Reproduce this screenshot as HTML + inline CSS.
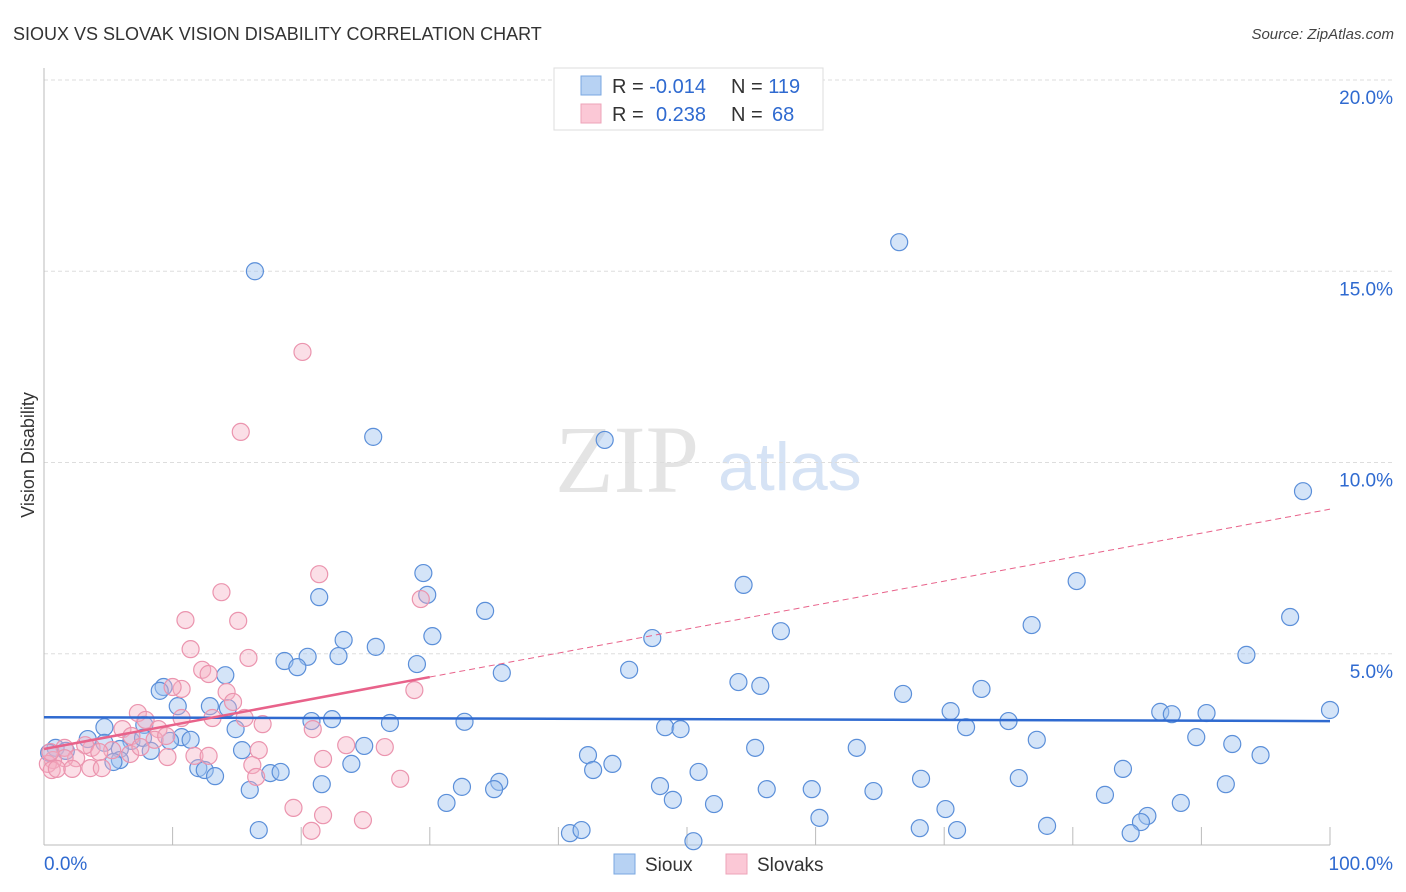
<!DOCTYPE html>
<html><head><meta charset="utf-8"><style>
body{margin:0;background:#fff;font-family:"Liberation Sans",sans-serif}
svg{display:block}
</style></head><body>
<svg id="chart" width="1406" height="892" xmlns="http://www.w3.org/2000/svg">
<text x="13" y="40" font-size="18" fill="#333">SIOUX VS SLOVAK VISION DISABILITY CORRELATION CHART</text>
<text x="1394" y="39" font-size="15" fill="#444" font-style="italic" text-anchor="end">Source: ZipAtlas.com</text>
<g>
<text x="555" y="492" font-size="96" font-family="Liberation Serif,serif" fill="#e4e4e4">ZIP</text>
<text x="718" y="490" font-size="68" fill="#d6e3f5">atlas</text>
</g>
<g id="grid"></g>
<g id="axes"></g>
<g id="pts"></g>
<g id="trends"></g>
<text transform="translate(34,455) rotate(-90)" font-size="18" fill="#333" text-anchor="middle">Vision Disability</text>
<g>
<rect x="554" y="68" width="269" height="62" fill="#fff" stroke="#ddd"/>
<rect x="581" y="76" width="20" height="19" fill="#b7d2f3" stroke="#7aa7e0"/>
<rect x="581" y="104" width="20" height="19" fill="#fbc8d6" stroke="#eea3b8"/>
<text x="612" y="93" font-size="20" fill="#333">R = <tspan fill="#2f6ad0">-0.014</tspan><tspan x="731">N = </tspan><tspan fill="#2f6ad0">119</tspan></text>
<text x="612" y="121" font-size="20" fill="#333">R = <tspan x="656" fill="#2f6ad0">0.238</tspan><tspan x="731">N = </tspan><tspan x="772" fill="#2f6ad0">68</tspan></text>
</g>
<g>
<rect x="614" y="854" width="21" height="20" fill="#b7d2f3" stroke="#7aa7e0"/>
<text x="645" y="871" font-size="19" fill="#333">Sioux</text>
<rect x="726" y="854" width="21" height="20" fill="#fbc8d6" stroke="#eea3b8"/>
<text x="757" y="871" font-size="19" fill="#333">Slovaks</text>
</g>
</svg>
<script>
const yTicks=[5,10,15,20];
const yTickLabels=["5.0%","10.0%","15.0%","20.0%"];
const xTickLabels=["0.0%","100.0%"];
const siouxX=[16.4,66.5,25.6,43.6,97.9,29.5,54.4,80.3,21.4,29.8,34.3,96.9,57.3,76.8,30.2,23.3,47.3,25.8,20.5,18.7,19.7,29.0,22.9,93.5,45.5,35.6,14.1,9.3,9.0,54.0,55.7,72.9,66.8,10.4,12.9,14.3,70.5,86.8,87.7,90.4,100,20.8,22.4,32.7,26.9,75.0,48.3,49.5,71.7,4.7,7.8,14.9,10.7,11.4,3.4,0.9,1.7,0.4,4.7,6.8,5.9,7.7,9.8,8.3,15.4,55.3,63.2,77.2,89.6,92.4,94.6,24.9,42.3,5.9,5.4,23.9,44.2,42.7,12.0,12.5,13.3,17.6,18.4,16.0,21.6,35.4,32.5,35.0,47.9,50.9,68.2,75.8,83.9,91.9,56.2,59.7,64.5,48.9,52.1,31.3,82.5,88.4,70.1,60.3,85.8,85.3,78.0,68.1,71.0,84.5,16.7,40.9,41.8,50.5];
const siouxY=[15.0,15.76,10.67,10.59,9.25,7.11,6.80,6.90,6.48,6.54,6.12,5.96,5.59,5.75,5.46,5.36,5.41,5.18,4.92,4.81,4.65,4.73,4.94,4.97,4.58,4.50,4.44,4.13,4.03,4.26,4.16,4.08,3.95,3.63,3.63,3.58,3.50,3.48,3.42,3.45,3.53,3.24,3.29,3.22,3.19,3.24,3.08,3.03,3.08,3.08,3.14,3.03,2.82,2.75,2.77,2.54,2.46,2.41,2.67,2.72,2.51,2.80,2.72,2.46,2.48,2.54,2.54,2.75,2.82,2.64,2.35,2.59,2.35,2.22,2.17,2.12,2.12,1.96,2.01,1.96,1.80,1.88,1.91,1.44,1.59,1.65,1.52,1.46,1.54,1.91,1.73,1.75,1.99,1.59,1.46,1.46,1.41,1.18,1.07,1.10,1.31,1.10,0.94,0.71,0.76,0.60,0.50,0.44,0.39,0.31,0.39,0.31,0.39,0.10];
const slovakX=[20.1,15.3,21.4,13.8,29.3,11.0,15.1,11.4,15.9,12.3,12.8,28.8,10.7,10.0,14.2,14.7,15.6,17.0,13.1,10.7,7.3,7.9,6.1,8.9,8.6,9.5,20.9,6.8,3.7,3.2,5.3,4.3,1.6,23.5,26.5,16.7,11.7,12.8,6.7,2.5,1.6,0.7,0.3,0.6,1.0,2.2,3.6,4.5,21.7,16.2,16.5,27.7,19.4,21.7,20.8,24.8,7.5,9.6,0.5];
const slovakY=[12.89,10.80,7.08,6.61,6.43,5.88,5.86,5.12,4.89,4.58,4.47,4.05,4.08,4.13,4.00,3.74,3.32,3.16,3.32,3.32,3.45,3.27,3.03,3.03,2.75,2.85,3.03,2.85,2.54,2.61,2.48,2.43,2.54,2.61,2.56,2.48,2.33,2.33,2.38,2.27,2.27,2.22,2.12,1.96,1.99,1.99,2.01,2.01,2.25,2.09,1.78,1.73,0.97,0.78,0.37,0.65,2.56,2.30,2.43];
const siouxTrend=[3.34,3.24];   // value at x=0, x=100
const slovakTrend=[2.51,8.78];  // value at x=0, x=100 (solid until 30)
const slovakSolidEnd=30;

const NS="http://www.w3.org/2000/svg";
const X0=44,X1=1330,Y0=845,Y20=80;
const xs=v=>X0+(X1-X0)*v/100;
const ys=v=>Y0-(Y0-Y20)*v/20;
function mk(tag,attrs,parent){const e=document.createElementNS(NS,tag);for(const k in attrs)e.setAttribute(k,attrs[k]);parent.appendChild(e);return e;}
const grid=document.getElementById('grid'),axes=document.getElementById('axes'),pts=document.getElementById('pts'),tr=document.getElementById('trends');
yTicks.forEach((t,i)=>{
 const l=mk('line',{x1:X0,x2:1395,y1:ys(t),y2:ys(t),stroke:'#ddd','stroke-dasharray':'4,3'},grid);
 
 
 const tx=mk('text',{x:1393,y:ys(t)+24,'font-size':19,fill:'#2f6ad0','text-anchor':'end'},axes);
 tx.textContent=yTickLabels[i];
 
 
});
mk('line',{x1:X0,x2:X0,y1:68,y2:Y0,stroke:'#bbb'},axes);
mk('line',{x1:X0,x2:X1,y1:Y0,y2:Y0,stroke:'#bbb'},axes);
for(let i=1;i<=10;i++){const tk=mk('line',{x1:xs(i*10),x2:xs(i*10),y1:827,y2:Y0,stroke:'#bbb'},axes);
 
 }
const xl0=mk('text',{x:44,y:870,'font-size':19,fill:'#2f6ad0'},axes);xl0.textContent=xTickLabels[0];


const xl1=mk('text',{x:1393,y:870,'font-size':19,fill:'#2f6ad0','text-anchor':'end'},axes);xl1.textContent=xTickLabels[1];


siouxX.forEach((x,i)=>{const c=mk('circle',{cx:xs(x),cy:ys(siouxY[i]),r:8.5,fill:'rgba(160,196,240,0.45)',stroke:'#5b8fd9','stroke-width':1.2},pts);
 
 });
slovakX.forEach((x,i)=>{const c=mk('circle',{cx:xs(x),cy:ys(slovakY[i]),r:8.5,fill:'rgba(246,175,195,0.4)',stroke:'#eb94ae','stroke-width':1.2},pts);
 
 });
const sv=x=>slovakTrend[0]+(slovakTrend[1]-slovakTrend[0])*x/100;
const t1=mk('line',{x1:xs(0),y1:ys(siouxTrend[0]),x2:xs(100),y2:ys(siouxTrend[1]),stroke:'#2f6ad0','stroke-width':2.5},tr);


const t2=mk('line',{x1:xs(0),y1:ys(sv(0)),x2:xs(slovakSolidEnd),y2:ys(sv(slovakSolidEnd)),stroke:'#e8628a','stroke-width':2.5},tr);


const t3=mk('line',{x1:xs(slovakSolidEnd),y1:ys(sv(slovakSolidEnd)),x2:xs(100),y2:ys(sv(100)),stroke:'#e8628a','stroke-width':1,'stroke-dasharray':'6,4'},tr);


</script>
</body></html>
